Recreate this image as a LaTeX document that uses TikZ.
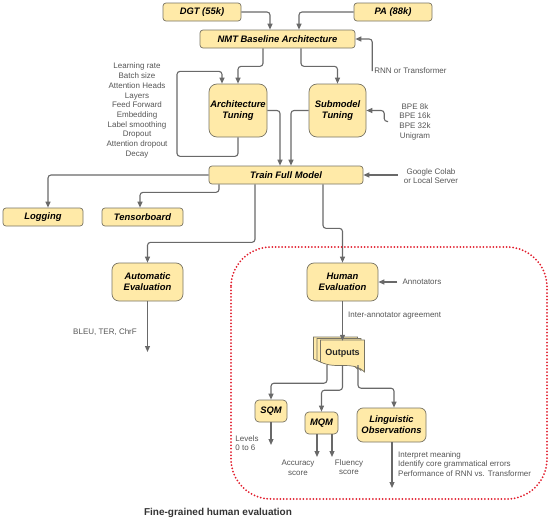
\documentclass[tikz,border=0pt]{standalone}
\usepackage{fontspec}
\setmainfont{Liberation Sans}
\usetikzlibrary{arrows.meta,backgrounds}
\definecolor{boxfill}{RGB}{255,234,168}
\definecolor{boxline}{RGB}{120,116,100}
\definecolor{wire}{RGB}{105,105,105}
\definecolor{notegray}{RGB}{85,85,85}
\definecolor{dotred}{RGB}{225,30,45}
\tikzset{
  bar/.style={draw=boxline, fill=boxfill, line width=0.7pt, rounded corners=3pt, inner sep=0pt,
    font=\fontsize{9.4}{11}\selectfont\bfseries\itshape, align=center},
  block/.style={bar, rounded corners=8pt},
  note/.style={inner sep=0pt, text=notegray, font=\fontsize{8}{9.7}\selectfont, align=center},
  arr/.style={draw=wire, line width=1.1pt, rounded corners=3pt, -{Triangle[length=6pt,width=5pt]}}
}
\begin{document}
\begin{tikzpicture}[x=1pt,y=-1pt]
\useasboundingbox (0,0) rectangle (550,522);
\foreach \x/\y/\n/\t/\w in {202/12/dgt/{DGT (55k)}/78, 393/12/pa/{PA (88k)}/78, 277.5/39/nmt/{NMT Baseline Architecture}/155, 286/175/train/{Train Full Model}/154, 43/217/log/Logging/80, 142.5/217/tb/Tensorboard/81}
  \node[bar,minimum width=\w,minimum height=18] (\n) at (\x,\y) {\t};
\foreach \x/\y/\n/\t/\w/\h/\r in {238/110.5/arch/{Architecture\\Tuning}/58/53/8, 337.5/110.5/sub/{Submodel\\Tuning}/57/53/8, 147.5/282/auto/{Automatic\\Evaluation}/71/38/7, 342.5/282/human/{Human\\Evaluation}/71/38/7, 271/411/sqm/SQM/32/22/4, 321.5/423/mqm/MQM/33/22/4, 391.5/425/ling/{Linguistic\\Observations}/69/34/6}
  \node[block,minimum width=\w,minimum height=\h,rounded corners=\r] (\n) at (\x,\y) {\t};

% stacked documents
\node[inner sep=0pt, minimum width=44, minimum height=24, font=\fontsize{9}{11}\selectfont\bfseries, text=black!85] (outputs) at (342.5,353) {Outputs};
\begin{scope}[on background layer, shift={(outputs.center)}]
\foreach \o in {2,1,0}
  \draw[draw=boxline, fill=boxfill, line width=0.7pt, shift={(-3.5*\o,-1.5*\o)}]
    (-22,-13) -- (22,-13) -- (22,19) .. controls (10,7) and (-6,17) .. (-22,9) -- cycle;
\end{scope}

% side notes
\node[note] (params) at (137,110.5) {Learning rate\\Batch size\\Attention Heads\\Layers\\Feed Forward\\Embedding\\Label smoothing\\Dropout\\Attention dropout\\Decay};
\node[note] (rnn) at (410.5,71) {RNN or Transformer};
\node[note] (bpe) at (415,121.5) {BPE 8k\\BPE 16k\\BPE 32k\\Unigram};
\node[note] (colab) at (431,176) {Google Colab\\or Local Server};
\node[note] (bleu) at (105,332) {BLEU, TER, ChrF};
\node[note] (annot) at (422,282) {Annotators};
\node[note, anchor=west] (iaa) at (348,316) {Inter-annotator agreement};
\node[note, align=left] (levels) at (247,443) {Levels\\0 to 6};
\node[note] (acc) at (298,468) {Accuracy\\score};
\node[note] (flu) at (349,467) {Fluency\\score};
\node[note, align=left, anchor=west] (lingnote) at (398,464) {Interpret meaning\\Identify core grammatical errors\\Performance of RNN vs. Transformer};
\node[font=\fontsize{10}{12}\selectfont\bfseries, text=black!80] (caption) at (218,513) {Fine-grained human evaluation};

\coordinate (autoend) at (147.5,352);
\coordinate (sqmend) at (271,445);
\coordinate (accend) at (317,457);
\coordinate (fluend) at (332,457);
\coordinate (lingend) at (392,488);

% connectors
\draw[arr] (dgt.east) -| ([xshift=-7.5pt]nmt.north);
\draw[arr] (pa.west) -| ([xshift=21.5pt]nmt.north);
\draw[arr] ([xshift=-2pt]rnn.west) |- (nmt.east);
\draw[arr] ([xshift=-14.5pt]nmt.south) -- ++(0,18) -| (arch.north);
\draw[arr] ([xshift=23.5pt]nmt.south) -- ++(0,18) -| (sub.north);
\draw[arr] (arch.south) -- ++(0,19) -| ++(-61,-85) -| ([xshift=-16pt]arch.north);
\draw[arr] (arch.east) -| ([xshift=-6pt]train.north);
\draw[arr] (sub.west) -| ([xshift=5pt]train.north);
\draw[arr] ([xshift=-11pt]bpe.west) -- ++(-4,0) |- (sub.east);
\draw[arr] ([xshift=-6pt]colab.west |- train.east) -- (train.east);
\draw[arr] (train.west) -| ([xshift=5pt]log.north);
\draw[arr] ([xshift=-67pt]train.south) -- ++(0,8) -| ([xshift=-2.5pt]tb.north);
\draw[arr] ([xshift=-31pt]train.south) -- ++(0,58) -| (auto.north);
\draw[arr] (auto.south) -- (autoend);
\draw[arr] ([xshift=37pt]train.south) -- ++(0,44) -| (human.north);
\draw[arr] ([xshift=-5pt]annot.west) -- (human.east);
\draw[arr] (human.south) -- (outputs.north);
\draw[arr] ([xshift=-15.5pt]outputs.south) -- ++(0,18) -| (sqm.north);
\draw[arr] (outputs.south) -- ++(0,25) -| (mqm.north);
\draw[arr] ([xshift=15.5pt]outputs.south) -- ++(0,23) -| ([xshift=2.5pt]ling.north);
\draw[arr] (sqm.south) -- (sqmend);
\draw[arr] ([xshift=-4.5pt]mqm.south) -- (accend);
\draw[arr] ([xshift=10.5pt]mqm.south) -- (fluend);
\draw[arr] ([xshift=0.5pt]ling.south) -- (lingend);

% human evaluation frame
\draw[dotred, line width=2pt, dash pattern=on 0pt off 3.3pt, line cap=round, rounded corners=40pt] (231,247) rectangle (547,499);
\end{tikzpicture}
\end{document}
